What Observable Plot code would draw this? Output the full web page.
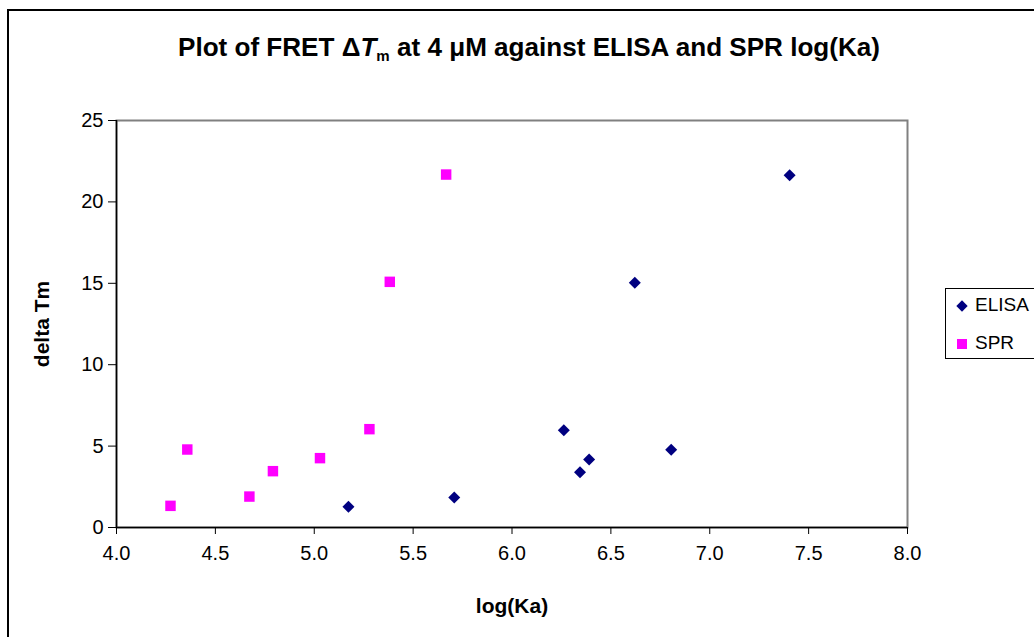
<!DOCTYPE html>
<html>
<head>
<meta charset="utf-8">
<script src="https://cdn.jsdelivr.net/npm/d3@7"></script>
<script src="https://cdn.jsdelivr.net/npm/@observablehq/plot@0.6"></script>
<style>
  html, body { margin: 0; padding: 0; background: #fff; overflow: hidden; }
  #wrap { position: relative; width: 1034px; height: 637px; font-family: "Liberation Sans", Arial, sans-serif; }
  #outer { position: absolute; left: 7px; top: 9px; width: 1040px; height: 640px; border-left: 2px solid #000; border-top: 2px solid #000; box-sizing: border-box; }
  #title { position: absolute; left: 178px; top: 32px; font-weight: bold; font-size: 26px; color: #000; white-space: nowrap; transform-origin: 0 0; }
  #title sub { font-size: 15px; vertical-align: baseline; position: relative; top: 5px; }
  #chart { position: absolute; left: 0; top: 0; }
  #chart svg [aria-label="x-axis label"] text, #chart svg [aria-label="y-axis label"] text { font-weight: bold; font-size: 21px; }
  #legend { position: absolute; left: 945px; top: 288px; width: 110px; height: 71px; border: 1px solid #000; box-sizing: border-box; background: #fff; font-size: 19px; }
  .item { position: absolute; left: 29px; color: #000; }
  .sym { position: absolute; }
</style>
</head>
<body>
<div id="wrap">
  <div id="outer"></div>
  <div id="chart"></div>
  <div id="title">Plot of FRET Δ<i>T</i><sub>m</sub> at 4 μM against ELISA and SPR log(Ka)</div>
  <div id="legend"></div>
</div>
<script>
// Data
const seriesNames = ["ELISA", "SPR"];
const elisaLogKa = [5.173, 5.708, 6.262, 6.344, 6.390, 6.621, 6.805, 7.404];
const elisaDeltaTm = [1.27, 1.84, 5.98, 3.40, 4.18, 15.03, 4.77, 21.64];
const sprLogKa = [4.273, 4.358, 4.672, 4.791, 5.029, 5.279, 5.382, 5.667];
const sprDeltaTm = [1.33, 4.79, 1.90, 3.46, 4.26, 6.04, 15.09, 21.68];
const xTicks = [4.0, 4.5, 5.0, 5.5, 6.0, 6.5, 7.0, 7.5, 8.0];
const yTicks = [0, 5, 10, 15, 20, 25];
const colors = {ELISA: "#000080", SPR: "#FF00FF"};

const elisa = elisaLogKa.map((x, i) => ({series: "ELISA", x, y: elisaDeltaTm[i]}));
const spr = sprLogKa.map((x, i) => ({series: "SPR", x, y: sprDeltaTm[i]}));

const chart = Plot.plot({
  width: 1034,
  height: 637,
  marginLeft: 116,
  marginRight: 127,
  marginTop: 120,
  marginBottom: 110,
  style: {fontFamily: "'Liberation Sans', Arial, sans-serif", fontSize: "20px", color: "#000", background: "transparent"},
  x: {domain: [4, 8]},
  y: {domain: [0, 25]},
  marks: [
    Plot.frame({stroke: "#808080", strokeWidth: 2}),
    Plot.axisX({ticks: xTicks, tickFormat: d3.format(".1f"), tickSize: 7, tickPadding: 11, stroke: "#000", fontSize: 20,
      label: "log(Ka)", labelAnchor: "center", labelArrow: "none", labelOffset: 85}),
    Plot.axisY({ticks: yTicks, tickSize: 8, tickPadding: 5, stroke: "#000", fontSize: 20,
      label: "delta Tm", labelAnchor: "center", labelArrow: "none", labelOffset: 82}),
    Plot.ruleY([0], {stroke: "#000", strokeWidth: 1.5}),
    Plot.ruleX([4], {stroke: "#000", strokeWidth: 1.5}),
    Plot.dot(spr, {x: "x", y: "y", symbol: "square", r: 5.9, fill: colors.SPR, stroke: "none"}),
    Plot.dot(elisa, {x: "x", y: "y", symbol: "diamond2", r: 5.4, fill: colors.ELISA, stroke: "none"})
  ]
});
document.getElementById("chart").appendChild(chart);

// Fit the title to the reference's width (the original font is condensed)
const title = document.getElementById("title");
const w = title.getBoundingClientRect().width;
title.style.transform = `scaleX(${702 / w})`;

// Legend
const legend = document.getElementById("legend");
seriesNames.forEach((name, i) => {
  const top = i === 0 ? 6 : 44;
  const s = document.createElement("div");
  s.className = "sym";
  if (name === "ELISA") {
    s.style.cssText = `left:12px; top:${top + 7}px; width:8px; height:8px; background:${colors[name]}; transform:rotate(45deg);`;
  } else {
    s.style.cssText = `left:11px; top:${top + 6}px; width:10px; height:10px; background:${colors[name]};`;
  }
  legend.appendChild(s);
  const t = document.createElement("div");
  t.className = "item";
  t.style.top = (top - 1) + "px";
  t.textContent = name;
  legend.appendChild(t);
});
</script>
</body>
</html>
